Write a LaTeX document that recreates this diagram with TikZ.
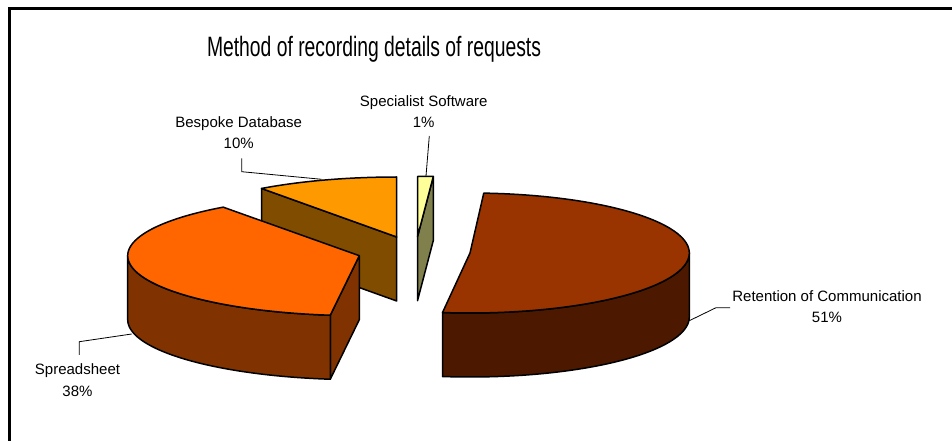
\documentclass[tikz,border=0pt]{standalone}
\usepackage{fontspec}
\setmainfont{Liberation Sans}
\newfontfamily\titlefont{Liberation Sans}[FakeStretch=0.69]
\definecolor{retTop}{HTML}{993300}
\definecolor{retSide}{HTML}{4C1900}
\definecolor{sprTop}{HTML}{FF6600}
\definecolor{sprSide}{HTML}{803300}
\definecolor{besTop}{HTML}{FF9900}
\definecolor{besSide}{HTML}{804C00}
\definecolor{speTop}{HTML}{FFFF99}
\definecolor{speSide}{HTML}{80804C}
\begin{document}
\begin{tikzpicture}[x=1bp,y=-1bp,
  slice/.style={draw=black, line width=1.5bp, line join=round},
  leader/.style={draw=black, line width=0.8bp},
  lbl/.style={font=\fontsize{15bp}{21bp}\selectfont, align=center, inner sep=0pt, anchor=base},
  frameline/.style={draw=black, line width=2.7bp}]
\useasboundingbox (0,0) rectangle (952,441);
% ---------- Bespoke Database (10%)
\path[slice, fill=besSide] ({396.7+230*cos(126)},{237-60*sin(126)}) -- (396.7,237) -- (396.7,301)
  -- ({396.7+230*cos(126)},{301-60*sin(126)}) -- cycle;
\path[slice, fill=besTop] (396.7,237) -- plot[domain=90:126, samples=30, variable=\t] ({396.7+230*cos(\t)},{237-60*sin(\t)}) -- cycle;
% ---------- Specialist Software (1%)
\path[slice, fill=speSide] (433.3,176.5) -- (433.3,240.5) -- (417.5,300.7) -- (417.5,236.7) -- cycle;
\path[slice, fill=speTop] (417.5,236.7) -- (417.5,176.5) -- (433.3,176.5) -- cycle;
% ---------- Spreadsheet (38%)
\path[slice, fill=sprSide] (359.3,255.7) -- ({359.3+231.6*cos(262.8)},{255.7-60*sin(262.8)})
  -- ({359.3+231.6*cos(262.8)},{319.7-60*sin(262.8)}) -- (359.3,319.7) -- cycle;
\path[slice, fill=sprSide] plot[domain=180:262.8, samples=50, variable=\t] ({359.3+231.6*cos(\t)},{255.7-60*sin(\t)})
  -- plot[domain=262.8:180, samples=50, variable=\t] ({359.3+231.6*cos(\t)},{319.7-60*sin(\t)}) -- cycle;
\path[slice, fill=sprTop] (359.3,255.7) -- plot[domain=262.8:126, samples=80, variable=\t] ({359.3+231.6*cos(\t)},{255.7-60*sin(\t)}) -- cycle;
% ---------- Retention of Communication (51%)
\path[slice, fill=retSide] plot[domain=-97.2:0, samples=60, variable=\t] ({470+219.3*cos(\t)},{253-60*sin(\t)})
  -- plot[domain=0:-97.2, samples=60, variable=\t] ({470+219.3*cos(\t)},{317-60*sin(\t)}) -- cycle;
\path[slice, fill=retTop] (470,253) -- plot[domain=86.4:-97.2, samples=100, variable=\t] ({470+219.3*cos(\t)},{253-60*sin(\t)}) -- cycle;
% ---------- labels
\node[lbl] (lspr) at (77.5,396) {Spreadsheet\\38\%};
\node[lbl] (lbes) at (238.7,149) {Bespoke Database\\10\%};
\node[lbl] (lspe) at (423.7,127.5) {Specialist Software\\1\%};
\node[lbl] (lret) at (827,322.7) {Retention of Communication\\51\%};
% ---------- leader lines
\coordinate (espr) at (131.7,334);
\coordinate (ebes) at (321.7,179.3);
\coordinate (espe) at (426,176);
\coordinate (eret) at (689.3,320.7);
\draw[leader] (79.3,355) -- (79.3,341.7) -- (espr);
\draw[leader] (241.7,158.3) -- (241.7,171.7) -- (ebes);
\draw[leader] (429.3,136) -- (espe);
\draw[leader] (730,307.7) -- (716,307.7) -- (eret);
% ---------- title
\node[font=\titlefont\fontsize{28bp}{30bp}\selectfont, anchor=base, inner sep=0pt] (title) at (374,56.7) {Method of recording details of requests};
% ---------- frame
\draw[frameline] (9.5,441) -- (9.5,8.7) -- (952,8.7);
\end{tikzpicture}
\end{document}
